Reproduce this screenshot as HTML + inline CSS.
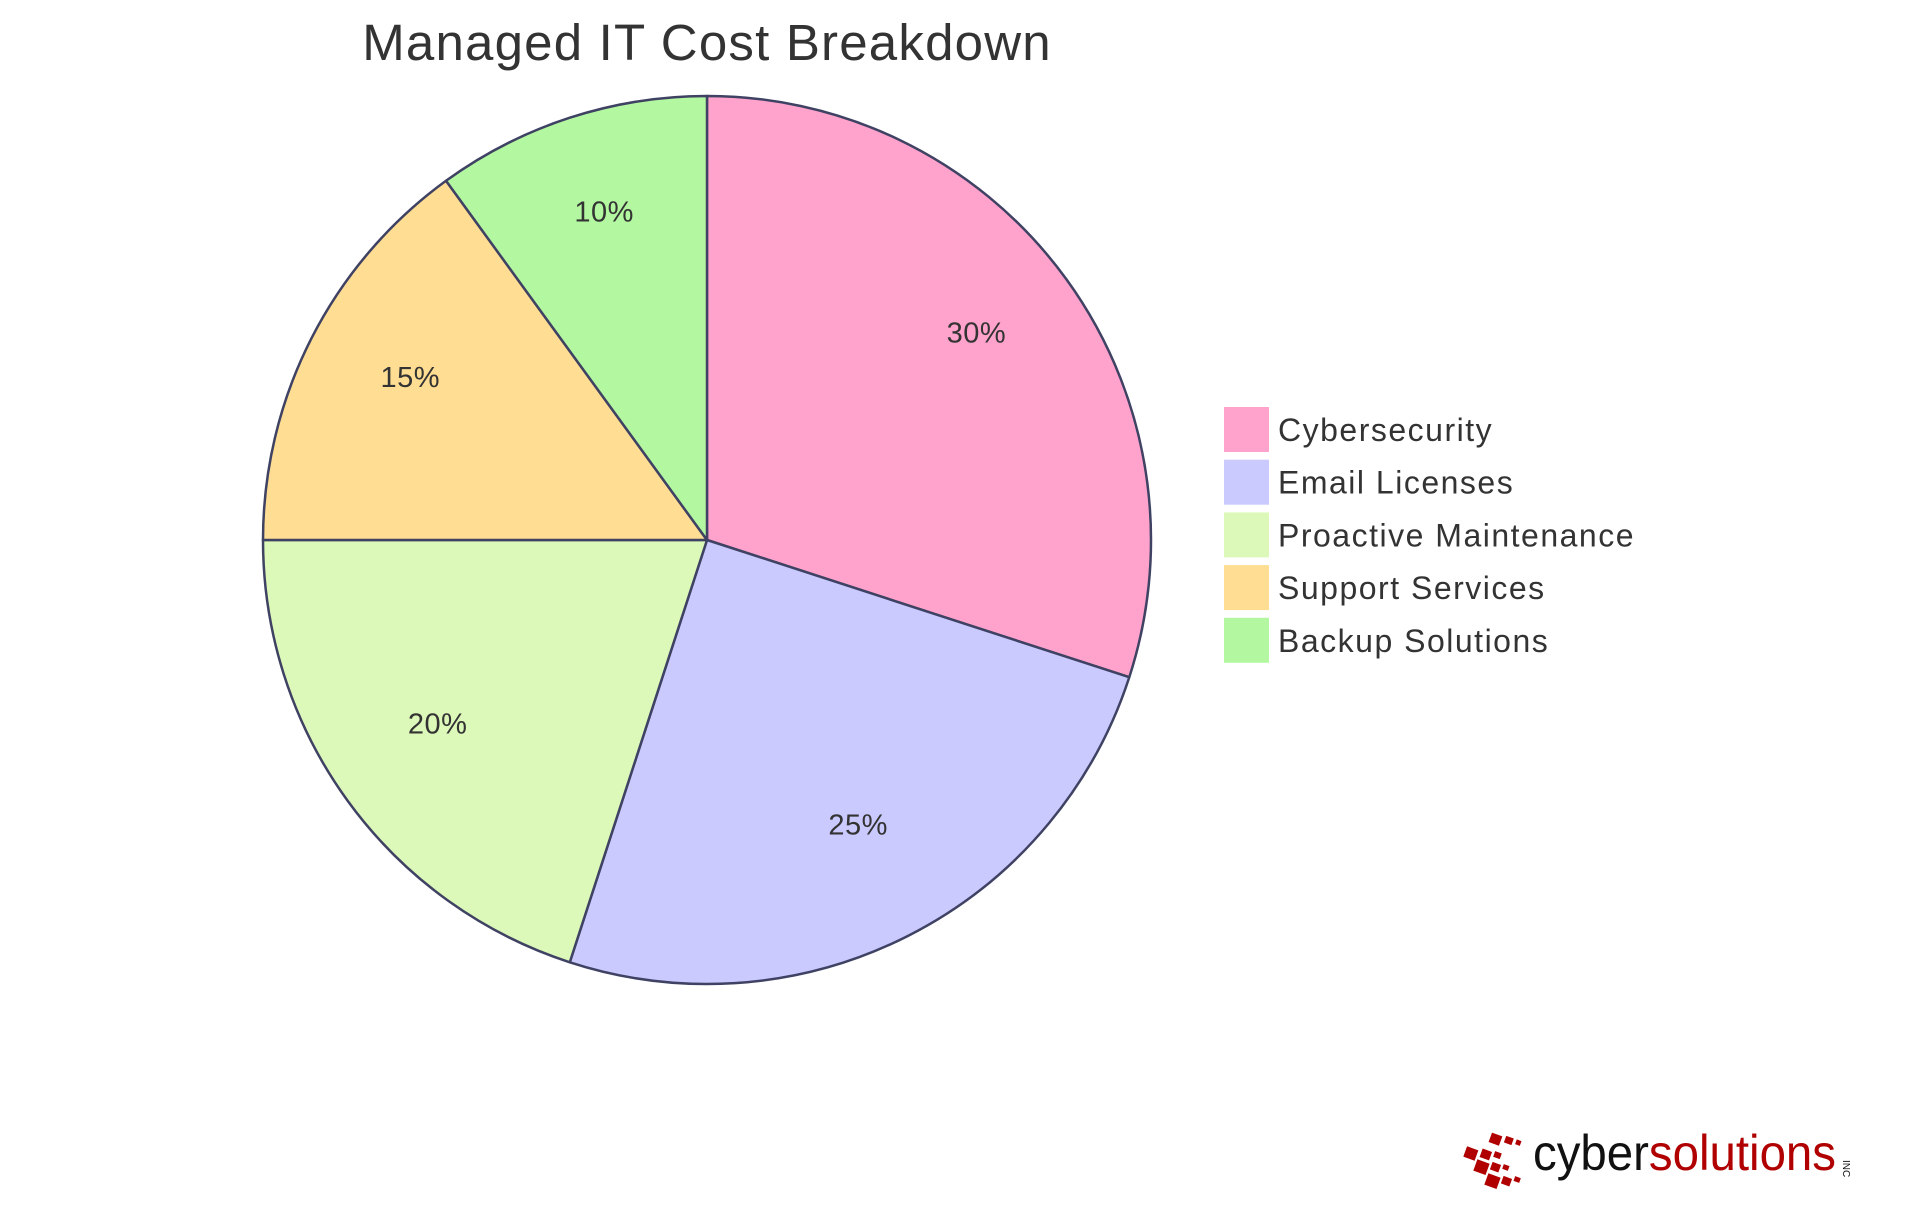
<!DOCTYPE html>
<html><head><meta charset="utf-8"><style>
html,body{margin:0;padding:0;background:#fff;}
svg{display:block;font-family:"Liberation Sans",sans-serif;}
</style></head><body>
<svg id="chart" width="1920" height="1215" viewBox="0 0 1920 1215">
<text x="707" y="60" text-anchor="middle" font-size="51" letter-spacing="1.2" fill="#333">Managed IT Cost Breakdown</text>
<g id="slices"></g>
<g id="labels"></g>
<g id="legend"></g>
<g>
  <g fill="#b00000">
    <rect x="1490" y="1134" width="11" height="10" transform="rotate(20 1495 1139)"/>
    <rect x="1505" y="1137" width="8" height="7" transform="rotate(20 1509 1140)"/>
    <rect x="1516" y="1140" width="5" height="5" transform="rotate(20 1518 1142)"/>
    <rect x="1465" y="1148" width="12" height="11" transform="rotate(20 1471 1153)"/>
    <rect x="1481" y="1150" width="10" height="9" transform="rotate(20 1486 1154)"/>
    <rect x="1494" y="1152" width="7" height="6" transform="rotate(20 1497 1155)"/>
    <rect x="1475" y="1161" width="13" height="12" transform="rotate(20 1481 1167)"/>
    <rect x="1491" y="1163" width="9" height="8" transform="rotate(20 1495 1167)"/>
    <rect x="1503" y="1165" width="6" height="5" transform="rotate(20 1506 1167)"/>
    <rect x="1486" y="1175" width="13" height="12" transform="rotate(20 1492 1181)"/>
    <rect x="1502" y="1177" width="9" height="8" transform="rotate(20 1506 1181)"/>
    <rect x="1514" y="1177" width="6" height="5" transform="rotate(20 1517 1180)"/>
  </g>
  <text x="1533" y="1170" font-size="50" textLength="303" lengthAdjust="spacingAndGlyphs"><tspan fill="#111">cyber</tspan><tspan fill="#b00000">solutions</tspan></text>
  <text x="0" y="0" font-size="10" fill="#111" transform="translate(1843,1160) rotate(90)">INC</text>
</g>
</svg>
<script>
const categories = ["Cybersecurity","Email Licenses","Proactive Maintenance","Support Services","Backup Solutions"];
const values = [30,25,20,15,10];
const colors = ["#FFA3CC","#CACAFF","#DCF9B9","#FFDE93","#B3F8A1"];
const labelTexts = ["30%","25%","20%","15%","10%"];
const NS="http://www.w3.org/2000/svg";
const cx=707, cy=540, r=444;
const total=values.reduce((a,b)=>a+b,0);
function pt(a,rad){return [cx+rad*Math.sin(a), cy-rad*Math.cos(a)];}
const gs=document.getElementById('slices'), gl=document.getElementById('labels'), gleg=document.getElementById('legend');
let a0=0;
values.forEach((v,i)=>{
  const a1=a0+v/total*2*Math.PI;
  const p0=pt(a0,r), p1=pt(a1,r);
  const large=(a1-a0)>Math.PI?1:0;
  const path=document.createElementNS(NS,'path');
  path.setAttribute('d',`M${cx},${cy}L${p0[0]},${p0[1]}A${r},${r} 0 ${large} 1 ${p1[0]},${p1[1]}Z`);
  path.setAttribute('fill',colors[i]);
  path.setAttribute('stroke','#3f4263');
  path.setAttribute('stroke-width','2.5');
  path.setAttribute('stroke-linejoin','round');
  
  
  gs.appendChild(path);
  const m=(a0+a1)/2, lp=pt(m,r*0.75);
  const t=document.createElementNS(NS,'text');
  t.setAttribute('x',lp[0]); t.setAttribute('y',lp[1]-2);
  t.setAttribute('text-anchor','middle'); t.setAttribute('font-size','29'); t.setAttribute('letter-spacing','0.5'); t.setAttribute('fill','#333');
  t.textContent=labelTexts[i];
  
  
  gl.appendChild(t);
  a0=a1;
  const y=407+i*52.7;
  const g=document.createElementNS(NS,'g');
  
  
  const sw=document.createElementNS(NS,'rect');
  sw.setAttribute('x',1224); sw.setAttribute('y',y); sw.setAttribute('width',45); sw.setAttribute('height',45);
  sw.setAttribute('fill',colors[i]);
  
  
  const lt=document.createElementNS(NS,'text');
  lt.setAttribute('x',1278); lt.setAttribute('y',y+34); lt.setAttribute('font-size','32'); lt.setAttribute('letter-spacing','1.5'); lt.setAttribute('fill','#333');
  lt.textContent=categories[i];
  
  
  g.appendChild(sw); g.appendChild(lt); gleg.appendChild(g);
});
</script>
</body></html>
